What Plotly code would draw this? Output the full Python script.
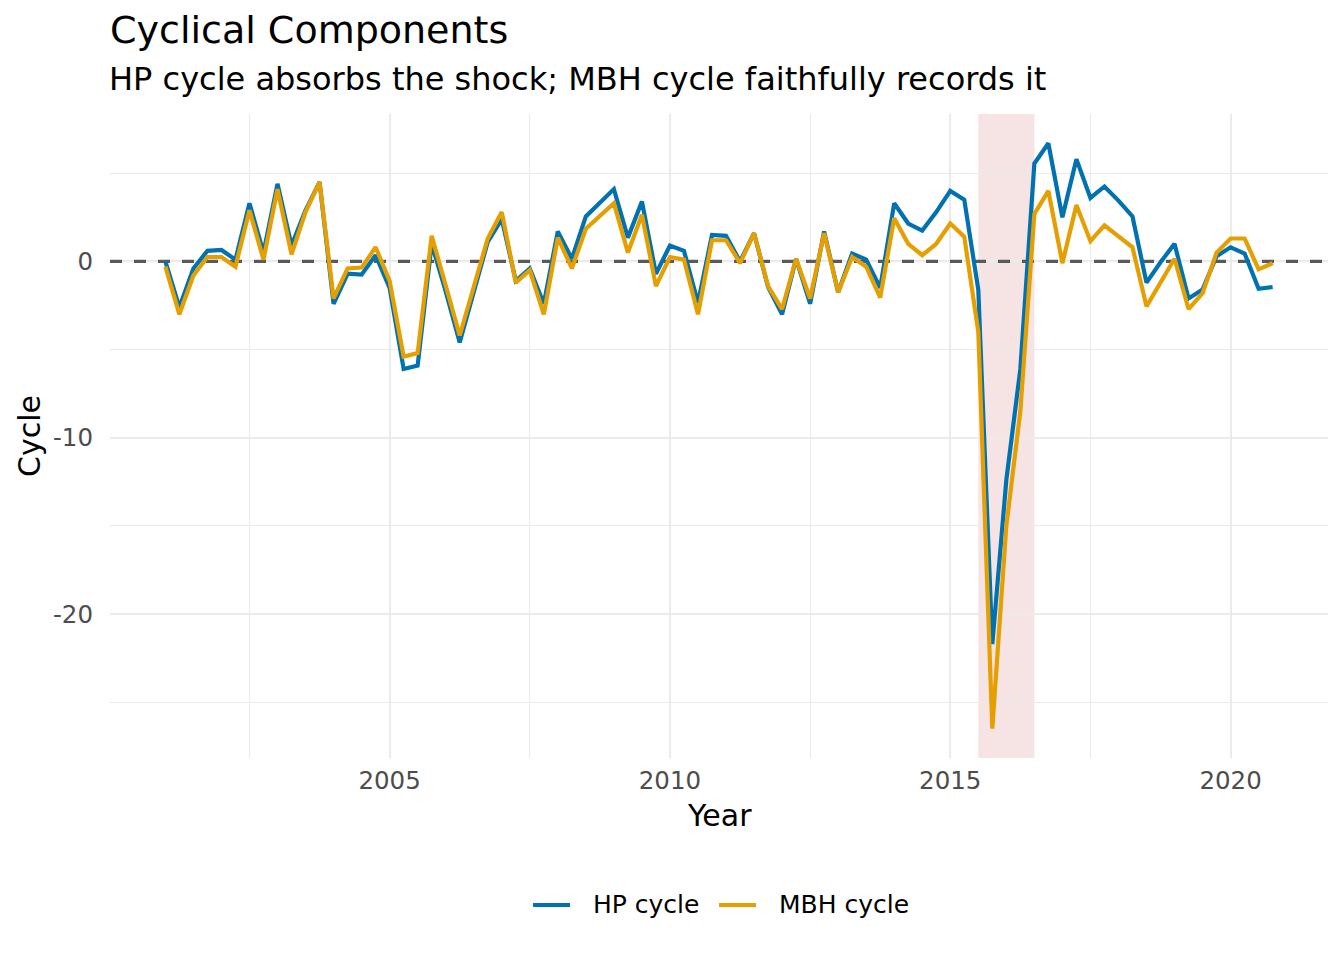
import plotly.graph_objects as go

# Quarterly time index (year + quarter fraction)
years = [
    2001.00, 2001.25, 2001.50, 2001.75, 2002.00, 2002.25, 2002.50, 2002.75,
    2003.00, 2003.25, 2003.50, 2003.75, 2004.00, 2004.25, 2004.50, 2004.75,
    2005.00, 2005.25, 2005.50, 2005.75, 2006.00, 2006.25, 2006.50, 2006.75,
    2007.00, 2007.25, 2007.50, 2007.75, 2008.00, 2008.25, 2008.50, 2008.75,
    2009.00, 2009.25, 2009.50, 2009.75, 2010.00, 2010.25, 2010.50, 2010.75,
    2011.00, 2011.25, 2011.50, 2011.75, 2012.00, 2012.25, 2012.50, 2012.75,
    2013.00, 2013.25, 2013.50, 2013.75, 2014.00, 2014.25, 2014.50, 2014.75,
    2015.00, 2015.25, 2015.50, 2015.75, 2016.00, 2016.25, 2016.50, 2016.75,
    2017.00, 2017.25, 2017.50, 2017.75, 2018.00, 2018.25, 2018.50, 2018.75,
    2019.00, 2019.25, 2019.50, 2019.75, 2020.00, 2020.25, 2020.50, 2020.75,
]

hp_cycle = [
    0.0, -2.6, -0.4, 0.6, 0.65, 0.1, 3.3, 0.5,
    4.4, 0.9, 2.9, 4.5, -2.4, -0.7, -0.75, 0.35,
    -1.5, -6.1, -5.9, 1.0, -1.7, -4.6, -1.75, 1.1,
    2.4, -1.1, -0.4, -2.4, 1.7, 0.15, 2.55, 3.35,
    4.1, 1.35, 3.4, -0.7, 0.9, 0.6, -2.35, 1.5,
    1.45, 0.0, 1.6, -1.45, -3.0, 0.15, -2.4, 1.7,
    -1.75, 0.45, 0.1, -1.5, 3.3, 2.15, 1.75, 2.8,
    4.0, 3.5, -1.6, -21.7, -12.4, -6.1, 5.55, 6.7,
    2.5, 5.8, 3.6, 4.25, 3.45, 2.55, -1.2, -0.05,
    1.0, -2.1, -1.6, 0.3, 0.8, 0.45, -1.55, -1.45,
]

mbh_cycle = [
    -0.3, -3.0, -0.8, 0.25, 0.25, -0.3, 2.9, 0.1,
    4.1, 0.4, 2.8, 4.5, -2.1, -0.4, -0.35, 0.8,
    -1.1, -5.4, -5.2, 1.45, -1.35, -4.2, -1.45, 1.3,
    2.8, -1.2, -0.5, -3.0, 1.35, -0.4, 1.85, 2.6,
    3.3, 0.5, 2.65, -1.4, 0.25, 0.1, -3.0, 1.2,
    1.2, -0.1, 1.6, -1.4, -2.7, 0.15, -2.1, 1.6,
    -1.75, 0.25, -0.3, -2.05, 2.45, 1.0, 0.35, 1.0,
    2.15, 1.4, -4.0, -26.5, -15.0, -8.5, 2.7, 4.0,
    -0.1, 3.2, 1.15, 2.05, 1.4, 0.8, -2.55, -1.2,
    0.15, -2.7, -1.8, 0.5, 1.3, 1.3, -0.45, -0.1,
]

series_names = ["HP cycle", "MBH cycle"]

shock_start = 2015.5
shock_end = 2016.5

x_ticks = [2005, 2010, 2015, 2020]
y_ticks = [0, -10, -20]

FONT = "DejaVu Sans"
BLUE = "#0072B2"
ORANGE = "#E69F00"
GRID = "#EBEBEB"

W, H = 1344, 960
L, R, T, B = 110, 16, 114, 202
PW, PH = W - L - R, H - T - B
X_RANGE = [2000.0125, 2021.7375]


def px_x(p):
    return (p - L) / PW


def px_y(p):
    return (H - B - p) / PH


fig = go.Figure()
fig.add_trace(go.Scatter(x=years, y=hp_cycle, mode="lines", name=series_names[0],
                         line=dict(color=BLUE, width=4.2), showlegend=False))
fig.add_trace(go.Scatter(x=years, y=mbh_cycle, mode="lines", name=series_names[1],
                         line=dict(color=ORANGE, width=4.2), showlegend=False))

fig.add_shape(type="line", xref="x", x0=X_RANGE[0], x1=X_RANGE[1], yref="y", y0=0, y1=0,
              line=dict(color="#5A5A5A", width=3.4, dash="12px,12px"), layer="between")
fig.add_shape(type="rect", xref="x", x0=shock_start, x1=shock_end,
              yref="paper", y0=0, y1=1, fillcolor="rgba(178,34,34,0.12)",
              line=dict(width=0), layer="between")

# Legend (drawn manually for exact spacing)
leg_y = px_y(905)
legend_items = [(series_names[0], BLUE, 533, 570, 591),
                (series_names[1], ORANGE, 719, 756, 777)]
annotations = []
for name, col, s0, s1, tx in legend_items:
    fig.add_shape(type="line", xref="paper", yref="paper", x0=px_x(s0), x1=px_x(s1),
                  y0=leg_y, y1=leg_y, line=dict(color=col, width=4.2))
    annotations.append(dict(text=name, xref="paper", x=px_x(tx), xanchor="left",
                            yref="paper", y=leg_y, yanchor="middle", showarrow=False,
                            font=dict(family=FONT, size=25, color="black")))

annotations += [
    dict(text="HP cycle absorbs the shock; MBH cycle faithfully records it",
         xref="paper", x=px_x(107), xanchor="left", yref="paper", y=px_y(79),
         yanchor="middle", showarrow=False,
         font=dict(family=FONT, size=32, color="black")),
    dict(text="Year", xref="paper", x=0.5, xanchor="center", yref="paper",
         y=px_y(816), yanchor="middle", showarrow=False,
         font=dict(family=FONT, size=30, color="black")),
    dict(text="Cycle", xref="paper", x=px_x(29), xanchor="center", yref="paper",
         y=0.5, yanchor="middle", textangle=-90, showarrow=False,
         font=dict(family=FONT, size=30, color="black")),
]

fig.update_layout(
    width=W, height=H,
    paper_bgcolor="white", plot_bgcolor="white",
    font=dict(family=FONT, color="black"),
    margin=dict(l=L, r=R, t=T, b=B),
    title=dict(text="Cyclical Components", x=L / W, xref="container", xanchor="left",
               y=1 - 30 / H, yref="container", yanchor="middle",
               font=dict(family=FONT, size=38, color="black")),
    showlegend=False,
    annotations=annotations,
)

fig.update_xaxes(
    range=X_RANGE, tickvals=x_ticks, ticktext=[str(v) for v in x_ticks],
    showgrid=True, gridcolor=GRID, gridwidth=2.1, zeroline=False, showline=False,
    ticks="", ticklabelstandoff=5,
    tickfont=dict(family=FONT, size=24.5, color="#4D4D4D"),
    minor=dict(tickvals=[2002.5, 2007.5, 2012.5, 2017.5], showgrid=True,
               gridcolor=GRID, gridwidth=1.1),
)
fig.update_yaxes(
    range=[-28.16, 8.36], tickvals=y_ticks, ticktext=[str(v) for v in y_ticks],
    showgrid=True, gridcolor=GRID, gridwidth=2.1, zeroline=False, showline=False,
    ticks="", ticklabelstandoff=16,
    tickfont=dict(family=FONT, size=24.5, color="#4D4D4D"),
    minor=dict(tickvals=[5, -5, -15, -25], showgrid=True, gridcolor=GRID, gridwidth=1.1),
)

fig.write_html("out.html", config={"displayModeBar": False},
               post_script="document.body.style.margin='0';")
